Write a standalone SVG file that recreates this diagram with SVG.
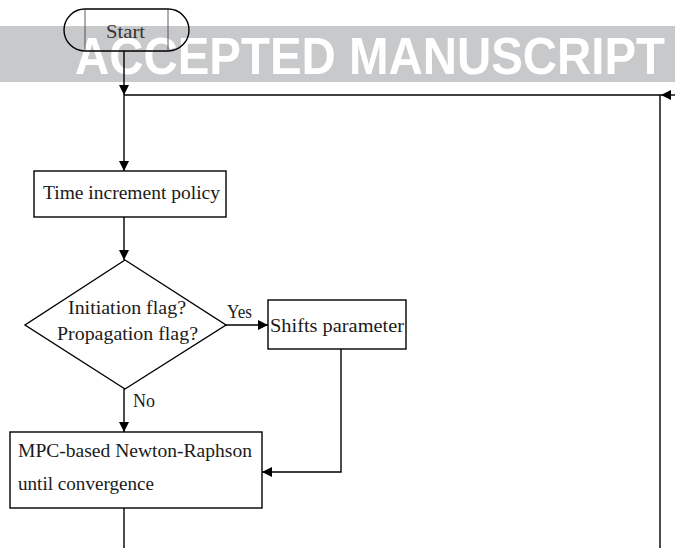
<svg xmlns="http://www.w3.org/2000/svg" width="675" height="548" viewBox="0 0 675 548">
<defs>
<marker id="arr" viewBox="0 0 10 10" refX="10" refY="5" markerWidth="10" markerHeight="10" markerUnits="userSpaceOnUse" orient="auto">
<path d="M0,0 L10,5 L0,10 Z" fill="#000"/>
</marker>
<style>
.box{fill:#fff;stroke:#000;stroke-width:1.4}
.ln{fill:none;stroke:#000;stroke-width:1.4}
.t{font-family:"Liberation Serif","DejaVu Serif",serif;font-size:18px;fill:#1a1a1a}
.wm{font-family:"Liberation Sans",Arial,sans-serif;font-weight:bold;font-size:52px;fill:#fff}
</style>
</defs>
<rect width="675" height="548" fill="#fff"/>
<g id="watermark">
<rect x="0" y="26" width="675" height="56" fill="#c8c9cb"/>
<text class="wm" x="75" y="74" textLength="590" lengthAdjust="spacingAndGlyphs">ACCEPTED MANUSCRIPT</text>
</g>
<g id="connectors">
<path class="ln" d="M124,51 V95" marker-end="url(#arr)"/>
<path class="ln" d="M124,95 V171" marker-end="url(#arr)"/>
<path class="ln" d="M124,217 V260" marker-end="url(#arr)"/>
<path class="ln" d="M226,325 H268" marker-end="url(#arr)"/>
<path class="ln" d="M124,389 V432" marker-end="url(#arr)"/>
<path class="ln" d="M341,349 V472 H262" marker-end="url(#arr)"/>
<path class="ln" d="M124,508 V548"/>
<path class="ln" d="M124,95 H661"/>
<path class="ln" d="M677,95 H661" marker-end="url(#arr)"/>
<path class="ln" d="M660,548 V95"/>
<text class="t" x="227" y="318" textLength="25" lengthAdjust="spacingAndGlyphs">Yes</text>
<text class="t" x="133" y="407" textLength="22" lengthAdjust="spacingAndGlyphs">No</text>
</g>
<g id="start">
<rect x="64" y="9" width="125" height="42" rx="21" ry="21" fill="none" stroke="#000" stroke-width="1.4"/>
<line x1="85" y1="9" x2="85" y2="51" stroke="#333" stroke-width="0.8"/>
<line x1="168" y1="9" x2="168" y2="51" stroke="#333" stroke-width="0.8"/>
<text class="t" x="106" y="38" textLength="39" lengthAdjust="spacingAndGlyphs" style="fill:#333">Start</text>
</g>
<g id="time-increment">
<rect class="box" x="34" y="171" width="192" height="46"/>
<text class="t" x="43" y="199" textLength="177" lengthAdjust="spacingAndGlyphs">Time increment policy</text>
</g>
<g id="decision">
<polygon class="box" points="125,260 226,325 125,389 25,325"/>
<text class="t" x="68" y="314" textLength="118" lengthAdjust="spacingAndGlyphs">Initiation flag?</text>
<text class="t" x="57" y="340" textLength="141" lengthAdjust="spacingAndGlyphs">Propagation flag?</text>
</g>
<g id="shifts">
<rect class="box" x="268" y="300" width="138" height="49"/>
<text class="t" x="270" y="332" textLength="134" lengthAdjust="spacingAndGlyphs">Shifts parameter</text>
</g>
<g id="mpc">
<rect class="box" x="10" y="432" width="252" height="76"/>
<text class="t" x="18" y="457" textLength="234" lengthAdjust="spacingAndGlyphs">MPC-based Newton-Raphson</text>
<text class="t" x="18" y="490" textLength="136" lengthAdjust="spacingAndGlyphs">until convergence</text>
</g>
</svg>
